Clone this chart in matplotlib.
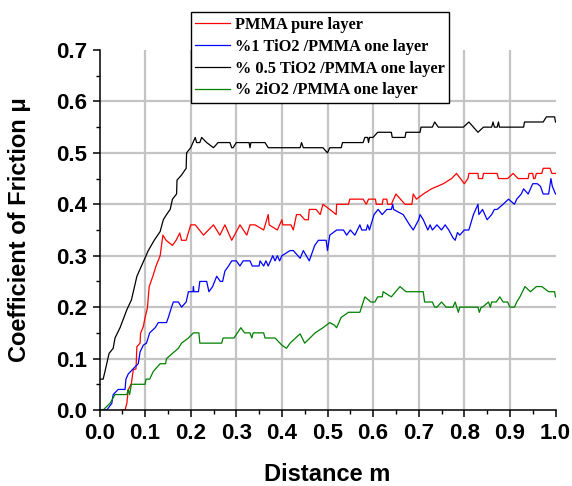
import matplotlib
matplotlib.use("Agg")
import matplotlib.pyplot as plt
from matplotlib.ticker import MultipleLocator, FormatStrFormatter

# ---------------- data ----------------
labels = ["PMMA pure layer", "%1 TiO2 /PMMA one layer",
          "% 0.5 TiO2 /PMMA one layer", "% 2iO2 /PMMA one layer"]
colors = ["#ff0000", "#0000ff", "#000000", "#008000"]

d_red = [0.049, 0.056, 0.06, 0.063, 0.07, 0.074, 0.08, 0.082, 0.089, 0.09, 0.096, 0.10, 0.105,
         0.109, 0.117, 0.124, 0.133, 0.139, 0.146, 0.16, 0.168, 0.176, 0.18, 0.19, 0.20, 0.21,
         0.228, 0.25, 0.264, 0.275, 0.29, 0.308, 0.323, 0.33, 0.341, 0.36, 0.37, 0.372, 0.39,
         0.40, 0.402, 0.42, 0.425, 0.432, 0.44, 0.45, 0.458, 0.46, 0.475, 0.484, 0.49, 0.505,
         0.519, 0.52, 0.546, 0.549, 0.578, 0.585, 0.59, 0.605, 0.607, 0.62, 0.622, 0.63, 0.632,
         0.64, 0.65, 0.66, 0.67, 0.685, 0.688, 0.695, 0.71, 0.728, 0.754, 0.772, 0.783, 0.80,
         0.808, 0.81, 0.83, 0.831, 0.84, 0.842, 0.872, 0.875, 0.895, 0.907, 0.918, 0.94, 0.942,
         0.95, 0.952, 0.955, 0.958, 0.97, 0.973, 0.988, 0.992, 1.0]
mu_red = [0.0, 0.0, 0.013, 0.039, 0.052, 0.078, 0.08, 0.123, 0.13, 0.149, 0.162, 0.18, 0.198,
          0.24, 0.26, 0.28, 0.30, 0.34, 0.33, 0.32, 0.33, 0.344, 0.33, 0.33, 0.36, 0.36,
          0.34, 0.36, 0.34, 0.36, 0.33, 0.36, 0.34, 0.36, 0.36, 0.35, 0.38, 0.36, 0.35,
          0.37, 0.36, 0.36, 0.35, 0.38, 0.38, 0.37, 0.37, 0.39, 0.39, 0.38, 0.40, 0.39,
          0.38, 0.40, 0.40, 0.41, 0.41, 0.40, 0.41, 0.41, 0.40, 0.40, 0.41, 0.41, 0.40,
          0.40, 0.42, 0.41, 0.40, 0.40, 0.42, 0.41, 0.42, 0.43, 0.44, 0.45, 0.46, 0.44,
          0.45, 0.46, 0.46, 0.45, 0.45, 0.46, 0.46, 0.45, 0.45, 0.46, 0.45, 0.45, 0.46,
          0.46, 0.45, 0.45, 0.46, 0.46, 0.47, 0.47, 0.46, 0.46]

d_blue = [0.0, 0.016, 0.027, 0.03, 0.041, 0.056, 0.058, 0.063, 0.078, 0.085, 0.089, 0.096, 0.103,
          0.11, 0.122, 0.129, 0.147, 0.151, 0.158, 0.162, 0.173, 0.18, 0.19, 0.195, 0.205, 0.206,
          0.207, 0.217, 0.22, 0.235, 0.24, 0.248, 0.257, 0.265, 0.27, 0.275, 0.283, 0.29, 0.30,
          0.308, 0.315, 0.33, 0.335, 0.35, 0.352, 0.36, 0.365, 0.37, 0.38, 0.385, 0.39, 0.395,
          0.40, 0.418, 0.425, 0.44, 0.447, 0.46, 0.472, 0.48, 0.49, 0.497, 0.50, 0.505, 0.52,
          0.524, 0.535, 0.542, 0.55, 0.56, 0.571, 0.575, 0.585, 0.588, 0.592, 0.602, 0.611, 0.62,
          0.63, 0.64, 0.643, 0.645, 0.655, 0.666, 0.68, 0.688, 0.70, 0.703, 0.71, 0.72, 0.725,
          0.73, 0.74, 0.75, 0.758, 0.766, 0.775, 0.78, 0.785, 0.79, 0.80, 0.81, 0.82, 0.83,
          0.832, 0.84, 0.85, 0.86, 0.866, 0.872, 0.885, 0.897, 0.91, 0.915, 0.925, 0.93, 0.94,
          0.95, 0.96, 0.967, 0.973, 0.985, 0.99, 0.993, 1.0]
mu_blue = [0.0, 0.0, 0.013, 0.03, 0.04, 0.04, 0.06, 0.07, 0.084, 0.09, 0.113, 0.126, 0.13,
           0.15, 0.16, 0.17, 0.17, 0.18, 0.20, 0.21, 0.21, 0.20, 0.21, 0.23, 0.23, 0.24,
           0.23, 0.23, 0.25, 0.25, 0.23, 0.24, 0.26, 0.25, 0.25, 0.27, 0.28, 0.29, 0.29,
           0.28, 0.29, 0.29, 0.28, 0.28, 0.29, 0.28, 0.29, 0.28, 0.30, 0.29, 0.30, 0.29,
           0.30, 0.31, 0.31, 0.295, 0.31, 0.29, 0.32, 0.33, 0.33, 0.33, 0.31, 0.34, 0.35,
           0.35, 0.35, 0.34, 0.35, 0.34, 0.36, 0.35, 0.35, 0.36, 0.35, 0.38, 0.39, 0.38,
           0.39, 0.39, 0.40, 0.39, 0.385, 0.38, 0.36, 0.35, 0.37, 0.38, 0.37, 0.35, 0.36,
           0.35, 0.36, 0.35, 0.36, 0.35, 0.335, 0.33, 0.345, 0.34, 0.35, 0.35, 0.38, 0.40,
           0.38, 0.39, 0.37, 0.38, 0.39, 0.39, 0.40, 0.41, 0.40, 0.41, 0.42, 0.43, 0.42,
           0.44, 0.44, 0.435, 0.42, 0.42, 0.45, 0.435, 0.42]

d_black = [0.0, 0.008, 0.012, 0.021, 0.03, 0.034, 0.045, 0.06, 0.07, 0.082, 0.092, 0.107, 0.12,
           0.133, 0.14, 0.147, 0.155, 0.16, 0.169, 0.17, 0.18, 0.19, 0.191, 0.20, 0.21, 0.213,
           0.22, 0.224, 0.235, 0.25, 0.26, 0.286, 0.29, 0.293, 0.30, 0.328, 0.33, 0.332, 0.363,
           0.37, 0.44, 0.443, 0.447, 0.49, 0.50, 0.505, 0.53, 0.533, 0.578, 0.582, 0.588, 0.59,
           0.592, 0.60, 0.61, 0.64, 0.642, 0.67, 0.672, 0.703, 0.705, 0.73, 0.735, 0.743, 0.798,
           0.81, 0.83, 0.842, 0.86, 0.863, 0.866, 0.872, 0.875, 0.877, 0.93, 0.932, 0.973, 0.98,
           0.998, 1.0]
mu_black = [0.06, 0.06, 0.075, 0.11, 0.12, 0.14, 0.16, 0.195, 0.214, 0.26, 0.28, 0.31, 0.33,
            0.347, 0.37, 0.38, 0.39, 0.41, 0.42, 0.447, 0.457, 0.47, 0.50, 0.51, 0.53, 0.52,
            0.52, 0.53, 0.52, 0.51, 0.52, 0.52, 0.51, 0.51, 0.52, 0.52, 0.51, 0.52, 0.52,
            0.51, 0.51, 0.52, 0.51, 0.51, 0.50, 0.51, 0.51, 0.52, 0.52, 0.53, 0.53, 0.52,
            0.53, 0.53, 0.54, 0.54, 0.53, 0.53, 0.54, 0.54, 0.55, 0.55, 0.56, 0.55, 0.55,
            0.56, 0.54, 0.55, 0.55, 0.56, 0.55, 0.55, 0.56, 0.55, 0.55, 0.56, 0.56, 0.57,
            0.57, 0.56]

d_green = [0.008, 0.023, 0.034, 0.06, 0.063, 0.066, 0.07, 0.10, 0.102, 0.11, 0.118, 0.133, 0.145,
           0.147, 0.16, 0.173, 0.18, 0.195, 0.206, 0.218, 0.22, 0.268, 0.271, 0.295, 0.31, 0.318,
           0.33, 0.334, 0.337, 0.341, 0.36, 0.363, 0.385, 0.40, 0.41, 0.418, 0.43, 0.44, 0.45,
           0.473, 0.49, 0.505, 0.515, 0.52, 0.53, 0.546, 0.571, 0.582, 0.595, 0.604, 0.61, 0.62,
           0.622, 0.64, 0.659, 0.672, 0.71, 0.713, 0.72, 0.73, 0.735, 0.74, 0.75, 0.76, 0.775,
           0.78, 0.787, 0.79, 0.83, 0.833, 0.837, 0.84, 0.853, 0.857, 0.86, 0.87, 0.878, 0.885,
           0.895, 0.90, 0.91, 0.915, 0.922, 0.933, 0.945, 0.958, 0.97, 0.985, 0.998, 1.0]
mu_green = [0.0, 0.013, 0.03, 0.03, 0.04, 0.03, 0.05, 0.05, 0.06, 0.06, 0.075, 0.09, 0.09,
            0.10, 0.11, 0.12, 0.13, 0.14, 0.15, 0.15, 0.13, 0.13, 0.14, 0.14, 0.16, 0.15,
            0.15, 0.14, 0.15, 0.15, 0.15, 0.14, 0.14, 0.126, 0.12, 0.13, 0.14, 0.148, 0.13,
            0.15, 0.16, 0.17, 0.165, 0.16, 0.18, 0.19, 0.19, 0.22, 0.21, 0.21, 0.22, 0.22,
            0.23, 0.22, 0.24, 0.23, 0.23, 0.21, 0.21, 0.21, 0.20, 0.20, 0.21, 0.20, 0.20,
            0.21, 0.19, 0.20, 0.20, 0.19, 0.20, 0.20, 0.21, 0.20, 0.21, 0.21, 0.22, 0.21,
            0.21, 0.20, 0.20, 0.21, 0.22, 0.24, 0.23, 0.24, 0.24, 0.23, 0.23, 0.22]

xlabel = "Distance m"
ylabel = "Coefficient of Friction \u03bc"

# ---------------- figure ----------------
W, H = 572, 486
fig = plt.figure(figsize=(W / 100, H / 100), dpi=100)
ax = fig.add_axes([99.5 / W, 1 - 410 / H, 456 / W, 360 / H])

series = [(d_red, mu_red), (d_blue, mu_blue), (d_black, mu_black), (d_green, mu_green)]
for (dx, dy), lab, c in zip(series, labels, colors):
    ax.plot(dx, dy, color=c, lw=0.9, label=lab, zorder=3)

ax.set_xlim(0, 1.0)
ax.set_ylim(0, 0.7)
ax.xaxis.set_major_locator(MultipleLocator(0.1))
ax.xaxis.set_minor_locator(MultipleLocator(0.05))
ax.yaxis.set_major_locator(MultipleLocator(0.1))
ax.yaxis.set_minor_locator(MultipleLocator(0.05))
ax.xaxis.set_major_formatter(FormatStrFormatter("%.1f"))
ax.yaxis.set_major_formatter(FormatStrFormatter("%.1f"))

for s in ["top", "right"]:
    ax.spines[s].set_visible(False)
for s in ["left", "bottom"]:
    ax.spines[s].set_linewidth(1.1)
    ax.spines[s].set_zorder(4)

ax.tick_params(which="major", direction="out", length=5, width=1.1, pad=4)
ax.tick_params(which="minor", direction="out", length=3, width=1.0)

ax.grid(True, which="major", color="#c4c4c4", lw=1.6, zorder=0)
ax.set_axisbelow(True)
for gl, t in zip(ax.yaxis.get_gridlines(), ax.get_yticks()):
    if abs(t) < 1e-6 or abs(t - 0.7) < 1e-6:
        gl.set_visible(False)
for gl, t in zip(ax.xaxis.get_gridlines(), ax.get_xticks()):
    if abs(t) < 1e-6 or abs(t - 1.0) < 1e-6:
        gl.set_visible(False)

for lbl in ax.get_xticklabels() + ax.get_yticklabels():
    lbl.set_fontfamily("Liberation Sans")
    lbl.set_fontweight("bold")
    lbl.set_fontsize(16)

ax.set_xlabel(xlabel, family="Liberation Sans", weight="bold", size=17, va="center")
ax.set_ylabel(ylabel, family="Liberation Sans", weight="bold", size=17, va="center")
ax.xaxis.set_label_coords(0.5, (410 - 474) / 360)
ax.yaxis.set_label_coords((20 - 99.5) / 456, 0.5)

leg = ax.legend(loc="upper left", bbox_to_anchor=(191 / W, 1 - 12.5 / H),
                bbox_transform=fig.transFigure, borderaxespad=0,
                prop=dict(family="Liberation Serif", weight="bold", size=11.8),
                frameon=True, fancybox=False, framealpha=1, edgecolor="black",
                borderpad=0.26, handlelength=2.1, handletextpad=0.3,
                labelspacing=0.36)
leg.get_frame().set_linewidth(1.0)
leg.set_zorder(5)

fig.savefig("out.png", dpi=100)
